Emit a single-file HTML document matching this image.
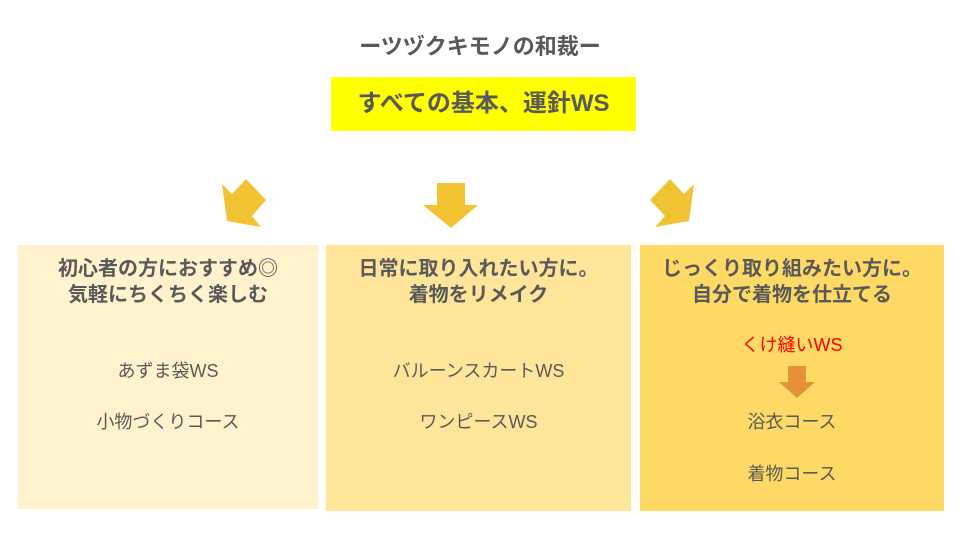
<!DOCTYPE html>
<html><head><meta charset="utf-8"><style>
body{margin:0;width:960px;height:540px;background:#fff;position:relative;overflow:hidden;font-family:"Liberation Sans","Noto Sans CJK JP",sans-serif;color:#595959}
.a{position:absolute;text-align:center;white-space:nowrap}
.b{font-weight:bold}
</style></head><body>
<div class="a b" style="left:280px;width:400px;top:34px;font-size:22px;line-height:26px">ーツヅクキモノの和裁ー</div>
<div class="a b" style="left:331px;width:305px;top:77px;height:54px;background:#ffff00;font-size:24px;line-height:54px">すべての基本、運針WS</div>
<svg width="960" height="540" style="position:absolute;left:0;top:0">
<polygon fill="#f1c232" points="222,184 232,194 246,179 266,200 252,216 261,227 227,221"/>
<polygon fill="#f1c232" points="437,183 465,183 465,205 478,205 451,228 423,205 437,205"/>
<polygon fill="#f1c232" points="694,184 684,194 670,179 650,200 665,216 655,227 689,221"/>
</svg>
<div class="a" style="left:18px;width:300px;top:245px;height:264px;background:#fff2cc"></div>
<div class="a" style="left:326px;width:305px;top:245px;height:266px;background:#ffe599"></div>
<div class="a" style="left:640px;width:304px;top:245px;height:266px;background:#ffd966"></div>
<svg width="960" height="540" style="position:absolute;left:0;top:0">
<polygon fill="#e69138" points="788,366 806,366 806,382 815,382 797,398 779,382 788,382"/>
</svg>
<div class="a b" style="left:18px;width:300px;top:256px;font-size:20px;line-height:26px">初心者の方におすすめ◎<br>気軽にちくちく楽しむ</div>
<div class="a b" style="left:326px;width:305px;top:256px;font-size:20px;line-height:26px">日常に取り入れたい方に。<br>着物をリメイク</div>
<div class="a b" style="left:640px;width:304px;top:256px;font-size:20px;line-height:26px">じっくり取り組みたい方に。<br>自分で着物を仕立てる</div>
<div class="a" style="left:18px;width:300px;top:359px;font-size:18px;line-height:24px">あずま袋WS</div>
<div class="a" style="left:18px;width:300px;top:410px;font-size:18px;line-height:24px">小物づくりコース</div>
<div class="a" style="left:326px;width:305px;top:359px;font-size:18px;line-height:24px">バルーンスカートWS</div>
<div class="a" style="left:326px;width:305px;top:410px;font-size:18px;line-height:24px">ワンピースWS</div>
<div class="a" style="left:640px;width:304px;top:333px;font-size:18px;line-height:24px;color:#ff0000">くけ縫いWS</div>
<div class="a" style="left:640px;width:304px;top:410px;font-size:18px;line-height:24px">浴衣コース</div>
<div class="a" style="left:640px;width:304px;top:462px;font-size:18px;line-height:24px">着物コース</div>
</body></html>
